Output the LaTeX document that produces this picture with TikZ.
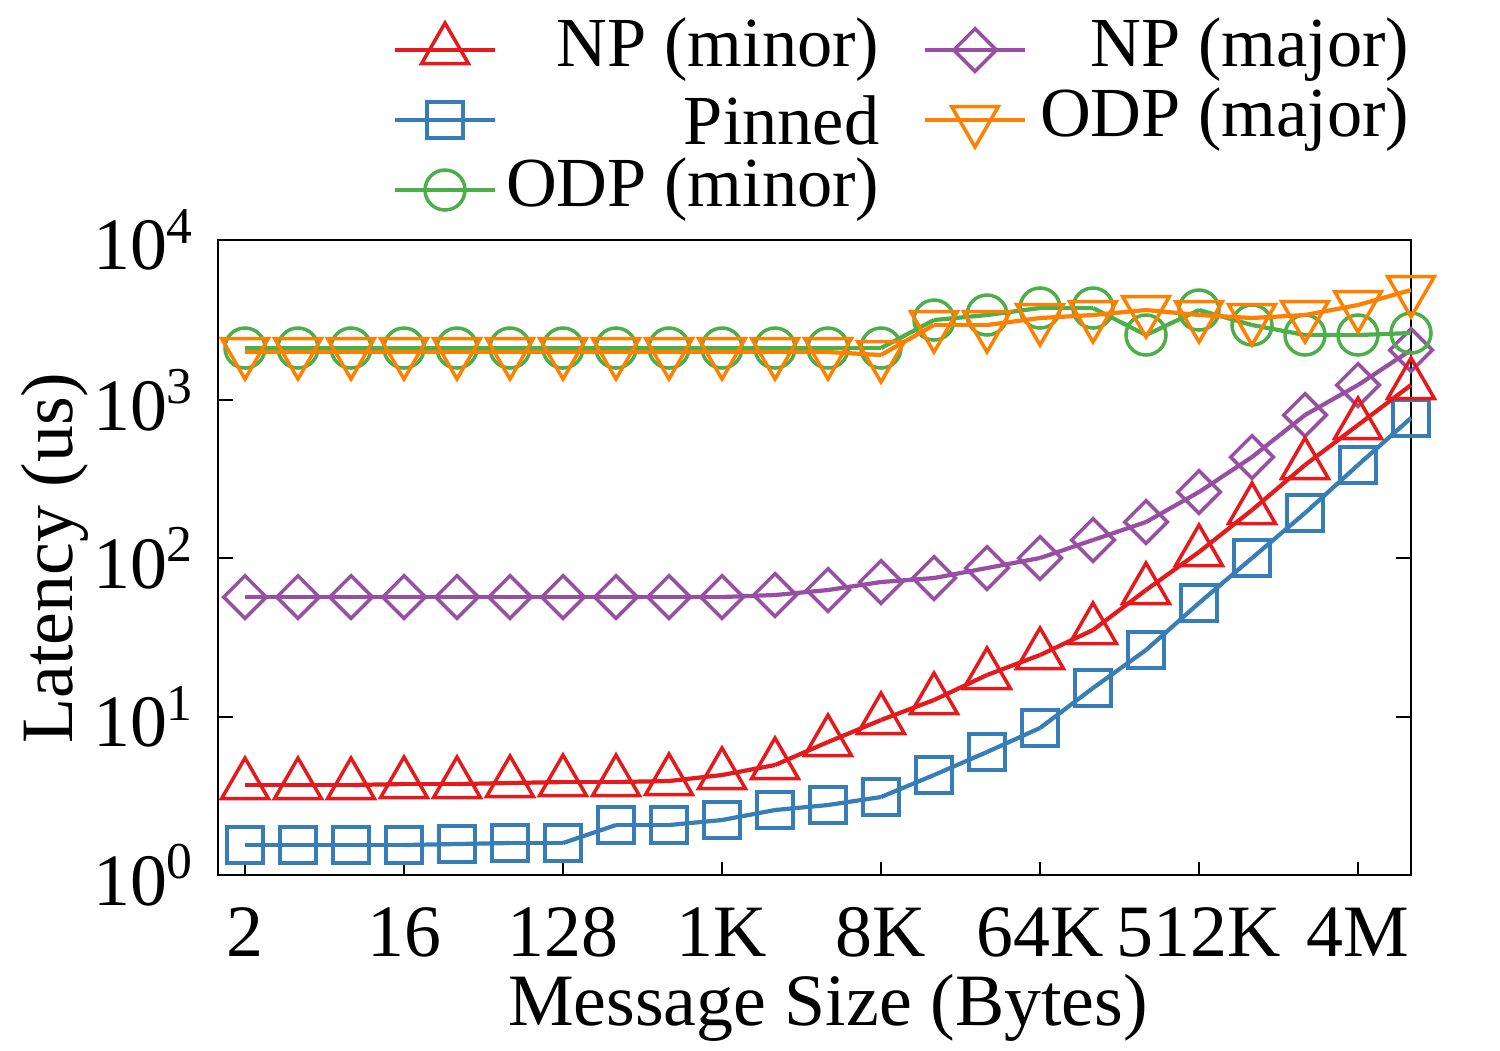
\documentclass[tikz,border=0pt]{standalone}
\usepackage{fontspec}
\setmainfont{Liberation Serif}
\usetikzlibrary{shapes.geometric}
\definecolor{npminor}{HTML}{E41A1C}
\definecolor{pinned}{HTML}{377EB8}
\definecolor{odpminor}{HTML}{4DAF4A}
\definecolor{npmajor}{HTML}{984EA3}
\definecolor{odpmajor}{HTML}{FF7F00}
\tikzset{
  curve/.style={line width=1.2pt},
  mk/.style={draw, line width=1pt, inner sep=0pt, fill=none},
  tri/.style={mk, regular polygon, regular polygon sides=3, minimum size=0.54cm},
  trid/.style={tri, shape border rotate=180},
  sq/.style={mk, rectangle, minimum size=0.36cm},
  circ/.style={mk, circle, minimum size=0.4cm},
  dia/.style={mk, diamond, minimum width=0.44cm, minimum height=0.44cm},
  lab/.style={font=\fontsize{21}{24}\selectfont},
  leglab/.style={font=\fontsize{20}{24}\selectfont, anchor=east, inner sep=0pt},
}
% one series: colour, marker style, pixel y values
\newcommand{\series}[3]{%
  \foreach \y [count=\i, remember=\y as \py (initially 0)] in {#3}
  {
    \pgfmathsetmacro{\x}{245+53*(\i-1)}
    \ifnum\i>1 \draw[curve,#1] (\x-53,\py)--(\x,\y); \fi
  }
  \foreach \y [count=\i] in {#3}
  {
    \pgfmathsetmacro{\x}{245+53*(\i-1)}
    \node[#2,#1] at (\x,\y) {};
  }
}
\begin{document}
\begin{tikzpicture}[x=0.01cm, y=-0.01cm]
\useasboundingbox (0,0) rectangle (1500,1050);

% frame and ticks
\draw[line width=0.8pt] (218,240) rectangle (1411,875);
\foreach \t/\e in {240/4,400/3,558/2,717/1,875/0}
{
    \draw[line width=0.8pt] (218,\t)--(233,\t) (1411,\t)--(1396,\t);
    \node[lab, anchor=east] (ylab\e) at (207,\t) {10\textsuperscript{\e}};
}
\foreach \i/\xtext in {1/2,4/16,7/128,10/1K,13/8K,16/64K,19/512K,22/4M}
{
    \pgfmathsetmacro{\x}{245+53*(\i-1)}
    \draw[line width=0.8pt] (\x,875)--(\x,862);
    \node[lab] (xlab\i) at (\x,932) {\xtext};
}
\node[lab, rotate=90] (ytitle) at (55,558) {Latency (us)};
\node[lab] (xtitle) at (828,1008) {Message Size (Bytes)};

% data
\series{npmajor}{dia}{597,597,597,597,597,597,597,597,597,597,595,590,582,578,568,558,540,522,492,457,415,385,350}
\series{pinned}{sq}{845,845,845,845,844,843,843,825,825,820,810,805,797,775,752,728,688,650,603,558,513,465,418}
\series{npminor}{tri}{785,785,785,784,784,783,782,782,781,775,765,742,720,700,675,655,630,590,552,510,465,425,385}
\series{odpminor}{circ}{348,348,348,348,348,348,348,348,348,348,348,348,348,320,315,308,308,335,310,325,335,335,333}
\series{odpmajor}{trid}{352,352,352,352,352,352,352,352,352,352,352,352,355,325,325,318,315,310,315,318,315,305,290}

% legend
\foreach \c/\m/\t/\lx/\ly [count=\k] in {npminor/tri/NP (minor)/395/50, pinned/sq/Pinned/395/120,
    odpminor/circ/ODP (minor)/395/190, npmajor/dia/NP (major)/925/50, odpmajor/trid/ODP (major)/925/120}
{
    \draw[curve,\c] (\lx,\ly)--(\lx+100,\ly);
    \node[\m,\c] (legmk\k) at (\lx+50,\ly) {};
    \node[leglab] (legtx\k) at (\lx+485,\ly) {\t};
}
\end{tikzpicture}
\end{document}
